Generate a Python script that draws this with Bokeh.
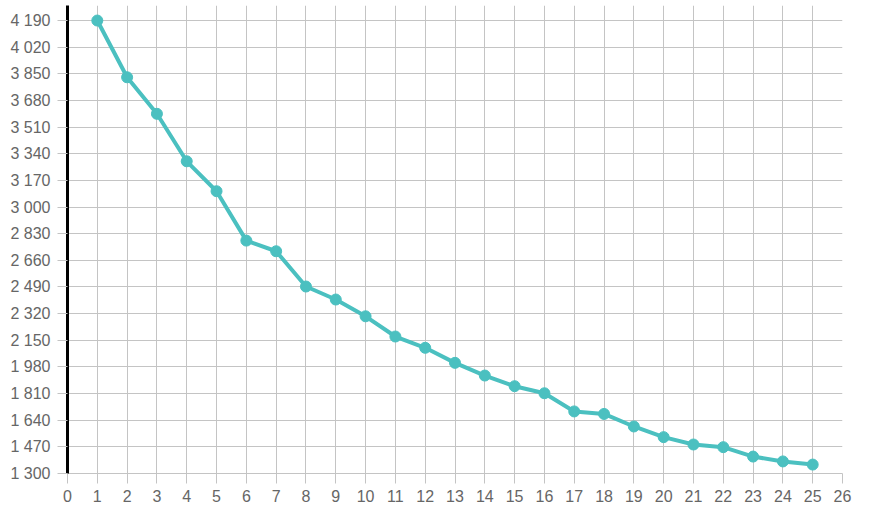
from bokeh.plotting import figure
from bokeh.models import Range1d, FixedTicker
from bokeh.embed import file_html
from bokeh.resources import INLINE

# Data
x_values = list(range(1, 26))
y_values = [4190, 3828, 3595, 3292, 3101, 2786, 2718, 2493, 2410, 2303,
            2174, 2102, 2006, 1925, 1857, 1812, 1696, 1680, 1600, 1532,
            1485, 1468, 1408, 1377, 1357]
x_ticks = list(range(0, 27))
y_ticks = [1300, 1470, 1640, 1810, 1980, 2150, 2320, 2490, 2660, 2830,
           3000, 3170, 3340, 3510, 3680, 3850, 4020, 4190]


def fmt(v):
    return "{:,}".format(v).replace(",", " ")


p = figure(frame_width=775, frame_height=468, output_backend="svg",
           toolbar_location=None,
           x_range=Range1d(0, 26), y_range=Range1d(1300, 4286),
           min_border_left=67, min_border_right=15, min_border_top=5,
           min_border_bottom=44)
p.outline_line_color = None
p.background_fill_color = "white"
p.border_fill_color = "white"

grid_color = "#c4c4c4"
p.xaxis.ticker = FixedTicker(ticks=x_ticks)
p.yaxis.ticker = FixedTicker(ticks=y_ticks)
p.yaxis.major_label_overrides = {v: fmt(v) for v in y_ticks}
p.xgrid.ticker = FixedTicker(ticks=x_ticks)
p.ygrid.ticker = FixedTicker(ticks=y_ticks)
for g in (p.xgrid, p.ygrid):
    g.grid_line_color = grid_color
    g.grid_line_width = 1

for ax in (p.xaxis, p.yaxis):
    ax.major_label_text_font = "Liberation Sans"
    ax.major_label_text_font_size = "16px"
    ax.major_label_text_color = "#666666"
    ax.major_tick_line_color = grid_color
    ax.major_tick_in = 0
    ax.minor_tick_line_color = None

p.yaxis.axis_line_color = "black"
p.yaxis.axis_line_width = 3
p.yaxis.major_tick_out = 10
p.yaxis.major_label_standoff = 7
p.xaxis.axis_line_color = grid_color
p.xaxis.major_tick_out = 10
p.xaxis.major_label_standoff = 6

color = "#4bc0c0"
p.line(x_values, y_values, line_color=color, line_width=4)
p.scatter(x_values, y_values, size=11, fill_color=color, line_color=color)

open("out.html", "w").write(file_html(p, INLINE))
